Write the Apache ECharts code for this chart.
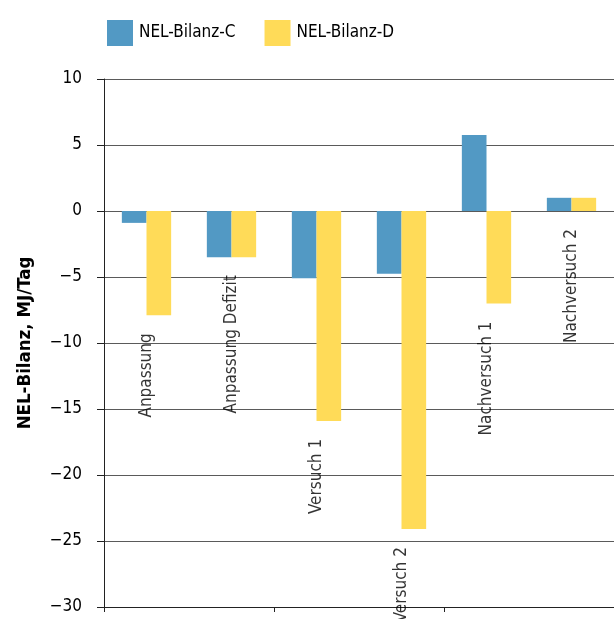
<!DOCTYPE html>
<html>
<head>
<meta charset="utf-8">
<script src="https://cdn.jsdelivr.net/npm/echarts@6/dist/echarts.min.js"></script>
<style>
  html, body { margin: 0; padding: 0; background: #fff; }
  #chart { width: 614px; height: 619px; }
</style>
</head>
<body>
<div id="chart"></div>
<script>
// Versuchsphasen und NEL-Bilanz der beiden Gruppen (MJ/Tag)
const categories = ['Anpassung', 'Anpassung Defizit', 'Versuch 1', 'Versuch 2', 'Nachversuch 1', 'Nachversuch 2'];
const bilanzC = [-0.9, -3.5, -5.1, -4.75, 5.75, 1.0];
const bilanzD = [-7.9, -3.5, -15.9, -24.1, -7.0, 1.0];
const seriesNames = ['NEL-Bilanz-C', 'NEL-Bilanz-D'];
const yTicks = { min: -30, max: 10, step: 5 };

// Anker der Phasenbeschriftung: unterhalb des tiefsten Balkens bzw. der Nulllinie
const labelAnchors = categories.map((c, i) => Math.min(0, bilanzC[i], bilanzD[i]));

const FONT = '"DejaVu Sans Condensed", "Liberation Sans", Arial, sans-serif';
const chart = echarts.init(document.getElementById('chart'), null, { renderer: 'canvas' });

chart.setOption({
  animation: false,
  textStyle: { fontFamily: FONT },
  legend: {
    data: seriesNames,
    left: 102,
    top: 15,
    itemWidth: 26,
    itemHeight: 26,
    itemGap: 29,
    icon: 'rect',
    textStyle: { fontFamily: FONT, fontSize: 17, color: '#000', padding: [0, 0, 0, 1] }
  },
  grid: { left: 104, right: 0, top: 79, bottom: 12, containLabel: false },
  xAxis: {
    type: 'category',
    data: categories,
    boundaryGap: true,
    axisLine: { onZero: false, lineStyle: { color: '#222', width: 1 } },
    axisTick: { show: true, interval: 1, length: 5, inside: false, lineStyle: { color: '#222' } },
    axisLabel: { show: false },
    splitLine: { show: false }
  },
  yAxis: {
    type: 'value',
    min: yTicks.min,
    max: yTicks.max,
    interval: yTicks.step,
    name: 'NEL-Bilanz, MJ/Tag',
    nameLocation: 'middle',
    nameGap: 69,
    nameTextStyle: { fontFamily: FONT, fontWeight: 'bold', fontSize: 18.5, color: '#000' },
    axisLine: { show: true, lineStyle: { color: '#222', width: 1 } },
    axisTick: { show: true, length: 7, lineStyle: { color: '#222' } },
    axisLabel: {
      margin: 22,
      fontFamily: FONT,
      fontSize: 17,
      color: '#000',
      formatter: v => String(v).replace('-', '\u2212')
    },
    splitLine: { show: true, lineStyle: { color: '#5a5a5a', width: 1 } }
  },
  series: [
    {
      name: seriesNames[0],
      type: 'bar',
      data: bilanzC,
      barWidth: '29%',
      barGap: '0%',
      itemStyle: { color: '#5299c4' }
    },
    {
      name: seriesNames[1],
      type: 'bar',
      data: bilanzD,
      barWidth: '29%',
      barGap: '0%',
      itemStyle: { color: '#ffdb58' }
    },
    {
      name: 'Phasen',
      type: 'scatter',
      data: labelAnchors,
      symbolSize: 0,
      silent: true,
      z: 5,
      label: {
        show: true,
        position: 'bottom',
        distance: 18,
        rotate: 90,
        align: 'right',
        verticalAlign: 'middle',
        fontFamily: FONT,
        fontSize: 17,
        color: '#000',
        formatter: p => categories[p.dataIndex]
      }
    }
  ]
});
</script>
</body>
</html>
